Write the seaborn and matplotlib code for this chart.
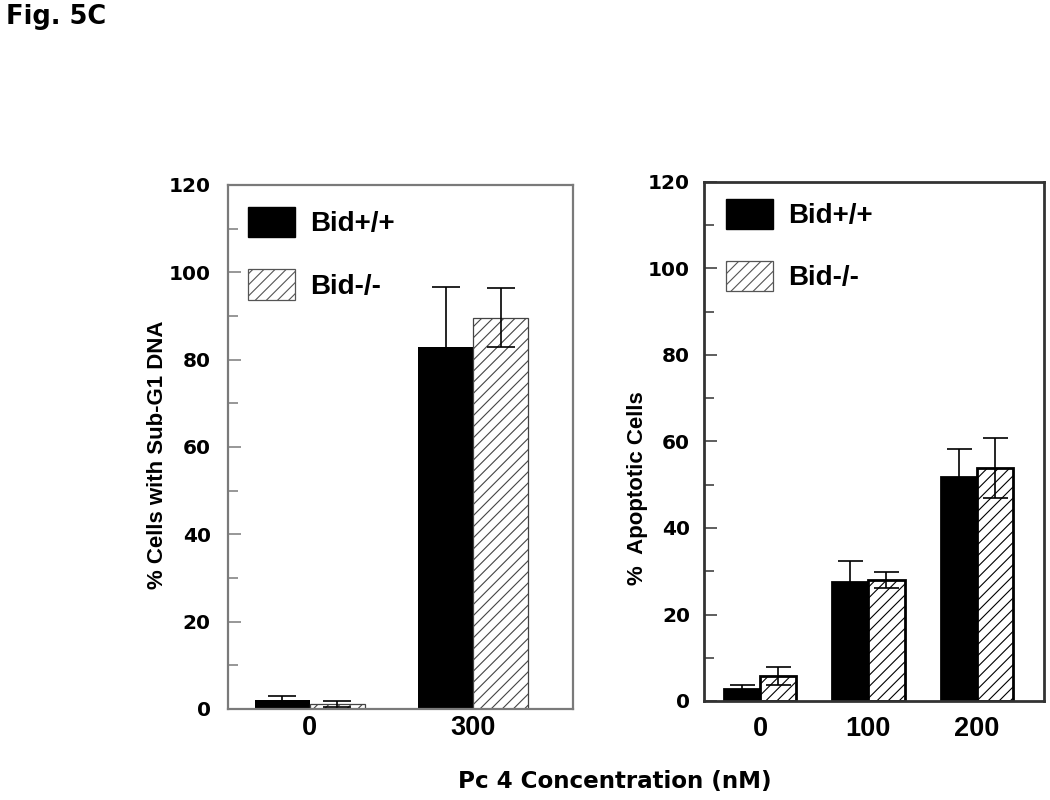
import numpy as np
import pandas as pd
import matplotlib
matplotlib.use("Agg")
import matplotlib.pyplot as plt
import seaborn as sns
from matplotlib.patches import Patch
from matplotlib.ticker import MultipleLocator

# ---------------- data ----------------
genotypes = ["Bid+/+", "Bid-/-"]

left_conc = ["0", "300"]
left_wt = [2.1, 82.9]
left_wt_err = [0.8, 13.8]
left_ko = [1.15, 89.6]
left_ko_err = [0.6, 6.8]

right_conc = ["0", "100", "200"]
right_wt = [2.8, 27.6, 51.8]
right_wt_err = [0.8, 4.8, 6.4]
right_ko = [5.8, 28.0, 53.9]
right_ko_err = [2.0, 1.8, 6.9]

y_ticks = [0, 20, 40, 60, 80, 100, 120]

left_ylabel = "% Cells with Sub-G1 DNA"
right_ylabel = "%  Apoptotic Cells"
x_label = "Pc 4 Concentration (nM)"
fig_label = "Fig. 5C"

# ---------------- style ----------------
sns.set_style("ticks")
plt.rcParams["font.family"] = ["Liberation Sans", "DejaVu Sans"]
plt.rcParams["font.weight"] = "bold"
plt.rcParams["hatch.linewidth"] = 0.8
plt.rcParams["text.color"] = "black"
plt.rcParams["axes.labelcolor"] = "black"
plt.rcParams["xtick.color"] = "black"
plt.rcParams["ytick.color"] = "black"


def make_df(conc, wt, ko):
    return pd.DataFrame({
        "conc": list(conc) * 2,
        "value": list(wt) + list(ko),
        "genotype": [genotypes[0]] * len(conc) + [genotypes[1]] * len(conc),
    })


fig = plt.figure(figsize=(10.5, 8), dpi=100)
W, H = 1050, 800
axL = fig.add_axes([228 / W, 1 - 709 / H, 345 / W, 524 / H])
axR = fig.add_axes([704 / W, 1 - 701 / H, 340 / W, 519 / H])


def draw(ax, conc, wt, wt_err, ko, ko_err, spine_col, spine_lw, bar_edge, bar_lw,
         ko_edge, hatch, capsize, width, ypad, xpad):
    df = make_df(conc, wt, ko)
    sns.barplot(data=df, x="conc", y="value", hue="genotype", order=conc,
                hue_order=genotypes, palette=["black", "white"], saturation=1,
                errorbar=None, width=width, legend=False, ax=ax, zorder=2)
    errs = [wt_err, ko_err]
    bar_conts = list(ax.containers)
    for i, cont in enumerate(bar_conts):
        for p in cont:
            if i == 0:
                p.set_facecolor("black")
                p.set_edgecolor(bar_edge)
                p.set_linewidth(bar_lw)
            else:
                p.set_facecolor("white")
                p.set_edgecolor(ko_edge)
                p.set_linewidth(bar_lw if bar_lw > 1 else 0.9)
                p.set_hatch(hatch)
        xs = [p.get_x() + p.get_width() / 2 for p in cont]
        ys = [p.get_height() for p in cont]
        ax.errorbar(xs, ys, yerr=errs[i], fmt="none", ecolor="black",
                    elinewidth=1.2, capsize=capsize, capthick=1.2, zorder=3)
    ax.set_ylim(0, 120)
    ax.set_yticks(y_ticks)
    ax.yaxis.set_minor_locator(MultipleLocator(10))
    ax.tick_params(axis="y", which="major", direction="in", length=9,
                   width=1.1, color=spine_col, labelcolor="black",
                   labelsize=14.5, pad=ypad, labelfontfamily="DejaVu Sans")
    ax.tick_params(axis="y", which="minor", direction="in", length=7,
                   width=1.1, color=spine_col)
    ax.tick_params(axis="x", length=0, labelsize=19.5, pad=xpad,
                   labelcolor="black")
    for s in ax.spines.values():
        s.set_visible(True)
        s.set_color(spine_col)
        s.set_linewidth(spine_lw)
    ax.set_xlabel("")
    for lab in ax.get_xticklabels() + ax.get_yticklabels():
        lab.set_fontweight("bold")


draw(axL, left_conc, left_wt, left_wt_err, left_ko, left_ko_err,
     "#7a7a7a", 1.6, "none", 0, "#444444", "///", 10, 0.674, 12.5, 4.5)
axL.set_xlim(-0.50, 1.61)
draw(axR, right_conc, right_wt, right_wt_err, right_ko, right_ko_err,
     "#333333", 2.0, "black", 2.0, "black", "///", 9, 0.667, 10, 10.5)
axR.set_xlim(-0.517, 2.62)

axL.set_ylabel(left_ylabel, fontsize=16, fontweight="bold", color="black")
axL.yaxis.set_label_coords(-0.174, 0.485)
axR.set_ylabel(right_ylabel, fontsize=16, fontweight="bold", color="black")
axR.yaxis.set_label_coords(-0.165, 0.41)

for ax, anchor in [(axL, (0.058, 0.958)), (axR, (0.064, 0.968))]:
    handles = [Patch(facecolor="black", edgecolor="black"),
               Patch(facecolor="white", edgecolor="#555555", hatch="///", lw=0.9)]
    leg = ax.legend(handles, genotypes, loc="upper left", bbox_to_anchor=anchor,
                    frameon=False, prop={"size": 20, "weight": "bold"},
                    handlelength=1.7, handleheight=1.3, labelspacing=1.15,
                    handletextpad=0.55, borderpad=0, borderaxespad=0)
    for t in leg.get_texts():
        t.set_color("black")

fig.text(6 / W, 1 - 24 / H, fig_label, fontsize=18.5, fontweight="bold",
         family="DejaVu Sans", color="black", ha="left", va="baseline")
fig.text(615 / W, 1 - 788 / H, x_label, fontsize=16.6, fontweight="bold",
         family="DejaVu Sans", color="black", ha="center", va="baseline")

fig.savefig("out.png", dpi=100)
